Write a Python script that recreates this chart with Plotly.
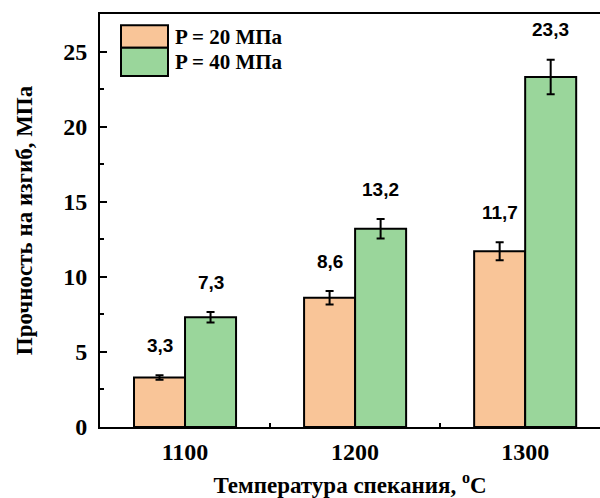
import plotly.graph_objects as go

temps = [1100, 1200, 1300]
series_names = ["P = 20 МПа", "P = 40 МПа"]
vals_20 = [3.3, 8.6, 11.7]
err_20 = [0.15, 0.45, 0.6]
vals_40 = [7.3, 13.2, 23.3]
err_40 = [0.35, 0.65, 1.15]
colors = ["#F9C598", "#9AD69B"]

bargap = 0.4
step = 100
bar_w = (1 - bargap) * step / 2

serif = "Liberation Serif"
sans = "Liberation Sans"

fig = go.Figure()
for name, vals, errs, col in [(series_names[0], vals_20, err_20, colors[0]),
                              (series_names[1], vals_40, err_40, colors[1])]:
    fig.add_trace(go.Bar(
        x=temps, y=vals, name=name,
        marker=dict(color=col, line=dict(color="black", width=2)),
        error_y=dict(type="data", array=errs, visible=True, color="black",
                     thickness=2, width=4),
        showlegend=False,
    ))

# value labels above error bars
for offs, vals, errs in [(-bar_w / 2, vals_20, err_20), (bar_w / 2, vals_40, err_40)]:
    for t, v, e in zip(temps, vals, errs):
        fig.add_annotation(
            x=t + offs, y=v + e, xref="x", yref="y",
            text=f"{v:.1f}".replace(".", ","), showarrow=False,
            yanchor="middle", yshift=30,
            font=dict(family=sans, size=19, color="black", weight="bold"),
        )

# manual legend (large swatches)
legend_rows = [(0.973, 0.918), (0.918, 0.850)]
for (y1, y0), col, name in zip(legend_rows, colors, series_names):
    fig.add_shape(type="rect", xref="paper", yref="paper",
                  x0=0.042, x1=0.136, y0=y0, y1=y1,
                  fillcolor=col, line=dict(color="black", width=2))
    fig.add_annotation(xref="paper", yref="paper", x=0.146, y=(y0 + y1) / 2,
                       text=name, showarrow=False, xanchor="left", yanchor="middle",
                       font=dict(family=serif, size=21, color="black", weight="bold"))

fig.update_layout(
    width=600, height=498,
    barmode="group", bargap=bargap, bargroupgap=0,
    plot_bgcolor="white", paper_bgcolor="white",
    margin=dict(l=100, r=0, t=14, b=71, autoexpand=False),
    font=dict(family=serif, color="black"),
)
fig.update_xaxes(
    range=[1050, 1344], tickvals=temps, ticktext=[str(t) for t in temps],
    automargin=False,
    showline=True, linecolor="black", linewidth=2, mirror=True,
    ticks="inside", ticklen=5, tickwidth=2, tickcolor="black",
    minor=dict(tickvals=[1150, 1250], ticks="inside", ticklen=4, tickwidth=2, tickcolor="black"),
    showgrid=False, zeroline=False,
    tickfont=dict(family=serif, size=24, color="black", weight="bold"),
    ticklabelstandoff=2,
    title=dict(text="Температура спекания, <sup>o</sup>C", standoff=16,
               font=dict(family=serif, size=23, color="black", weight="bold")),
)
fig.update_yaxes(
    range=[0, 27.5], dtick=5, tick0=0,
    automargin=False,
    showline=True, linecolor="black", linewidth=2, mirror=False,
    ticks="inside", ticklen=7, tickwidth=2, tickcolor="black",
    minor=dict(dtick=2.5, ticks="inside", ticklen=4, tickwidth=2, tickcolor="black"),
    showgrid=False, zeroline=False,
    tickfont=dict(family=serif, size=24, color="black", weight="bold"),
    ticklabelstandoff=6,
    title=dict(text="Прочность на изгиб, МПа", standoff=24,
               font=dict(family=serif, size=23, color="black", weight="bold")),
)

fig.write_html("out.html", config={"displayModeBar": False},
               post_script="document.body.style.margin='0';document.body.style.padding='0';")
